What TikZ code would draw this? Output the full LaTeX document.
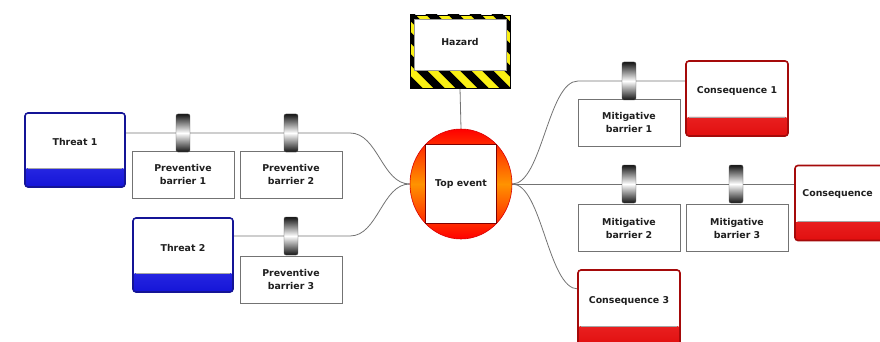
\documentclass[tikz,border=0pt]{standalone}
\usepackage{fontspec}
\setmainfont{DejaVu Sans}
\usetikzlibrary{shapes.geometric,backgrounds}
\definecolor{tblue}{RGB}{20,20,215}
\definecolor{tbluelight}{RGB}{90,90,255}
\definecolor{tbluedark}{RGB}{20,20,150}
\definecolor{cred}{RGB}{225,15,15}
\definecolor{credlight}{RGB}{255,80,80}
\definecolor{creddark}{RGB}{165,10,10}
\definecolor{hzyellow}{RGB}{250,240,20}
\begin{document}
\begin{tikzpicture}[x=1pt,y=-1pt,
  every node/.style={font=\bfseries\fontsize{9.4}{13}\selectfont, text=black!88},
  link/.style={draw=black!55, line width=0.8pt},
  barrierbox/.style={draw=black!55, fill=white, line width=0.6pt, minimum width=102pt, minimum height=47pt, inner sep=0pt, align=center},
  cyl/.style={minimum width=14pt, minimum height=38pt, inner sep=0pt, rounded corners=2pt, top color=black!92, bottom color=black!92, middle color=white, draw=black!70, line width=0.4pt},
  threatbox/.style={draw=tbluedark, line width=1.6pt, rounded corners=3pt, fill=white, minimum width=100pt, inner sep=0pt, text height=33pt, text depth=41pt,
    path picture={\shade[top color=tbluelight, bottom color=tblue] ([yshift=19pt]path picture bounding box.south west) rectangle (path picture bounding box.south east);
      \draw[black!35, line width=0.5pt] ([yshift=19pt,xshift=3pt]path picture bounding box.south west) -- ([yshift=19pt,xshift=-3pt]path picture bounding box.south east);}},
  consbox/.style={draw=creddark, line width=1.6pt, rounded corners=3pt, fill=white, minimum width=102pt, inner sep=0pt, text height=33pt, text depth=42pt,
    path picture={\shade[top color=credlight, bottom color=cred] ([yshift=19pt]path picture bounding box.south west) rectangle (path picture bounding box.south east);
      \draw[black!35, line width=0.5pt] ([yshift=19pt,xshift=3pt]path picture bounding box.south west) -- ([yshift=19pt,xshift=-3pt]path picture bounding box.south east);}},
  hazardbox/.style={draw=black, line width=0.6pt, fill=hzyellow, minimum width=100pt, inner sep=0pt, text height=31pt, text depth=42pt,
    path picture={\foreach \i in {-130,-108,...,130} {\draw[black, line width=8pt] ([xshift=\i pt,yshift=20pt]path picture bounding box.north west) -- ++(120pt,-120pt);}
      \fill[white] ([xshift=4pt,yshift=-4pt]path picture bounding box.north west) rectangle ([xshift=-4pt,yshift=18pt]path picture bounding box.south east);
      \draw[black!40, line width=0.5pt] ([xshift=4pt,yshift=-4pt]path picture bounding box.north west) rectangle ([xshift=-4pt,yshift=18pt]path picture bounding box.south east);}},
  topshape/.style={ellipse, minimum width=102pt, minimum height=110pt, inner sep=0pt, top color=red, bottom color=red, middle color=orange!85!yellow, draw=red!85!black, line width=0.6pt},
  topbox/.style={draw=red!50!black, fill=white, line width=0.6pt, minimum width=71pt, minimum height=79pt, inner sep=0pt}
]
\useasboundingbox (0,0) rectangle (880,342);
\clip (0,0) rectangle (880,342);

% threats and preventive barriers
\node[threatbox] (t1) at (75,150) {Threat 1};
\node[threatbox] (t2) at (183,255) {Threat 2};
\node[barrierbox] (pb1) at (183,174.5) {Preventive\\barrier 1};
\node[barrierbox] (pb2) at (291,174.5) {Preventive\\barrier 2};
\node[barrierbox] (pb3) at (291,279.5) {Preventive\\barrier 3};

% hazard and top event
\node[hazardbox] (hz) at (460,51.5) {Hazard};
\node[topshape] (te) at (461,184) {};
\node[topbox] (tb) at (te.center) {Top event};

% mitigative barriers and consequences
\node[barrierbox] (mb1) at (629,122.5) {Mitigative\\barrier 1};
\node[barrierbox] (mb2) at (629,228) {Mitigative\\barrier 2};
\node[barrierbox] (mb3) at (737,228) {Mitigative\\barrier 3};
\node[consbox] (c1) at (737,98.5) {Consequence 1};
\node[consbox] (c2) at (846,203) {};
\node[anchor=west, inner sep=0pt] (c2t) at ([xshift=8pt,yshift=9pt]c2.west) {Consequence};
\node[consbox] (c3) at (629,307.5) {Consequence 3};

% connectors
\coordinate (l1) at (350,133);
\coordinate (l2) at (350,236);
\coordinate (r1) at (578,81);
\coordinate (r3) at (578,289);
\begin{scope}[on background layer]
\draw[link] ([yshift=17pt]t1.east) -- (l1) .. controls (378,133) and (382,184) .. (te.west);
\draw[link] ([yshift=19pt]t2.east) -- (l2) .. controls (378,236) and (382,184) .. (te.west);
\draw[link] (hz.south) -- (te.north);
\draw[link] (te.east) .. controls (542,184) and (548,81) .. (r1) -- ([yshift=17.5pt]c1.west);
\draw[link] (te.east) -- ([yshift=19pt]c2.west);
\draw[link] (te.east) .. controls (542,184) and (548,289) .. (r3) -- ([yshift=18.5pt]c3.west);
\end{scope}

% barrier cylinders
\node[cyl] (k1) at (183,133) {};
\node[cyl] (k2) at (291,133) {};
\node[cyl] (k3) at (291,236) {};
\node[cyl] (km1) at (629,81) {};
\node[cyl] (km2) at (629,184) {};
\node[cyl] (km3) at (736,184) {};
\end{tikzpicture}
\end{document}
